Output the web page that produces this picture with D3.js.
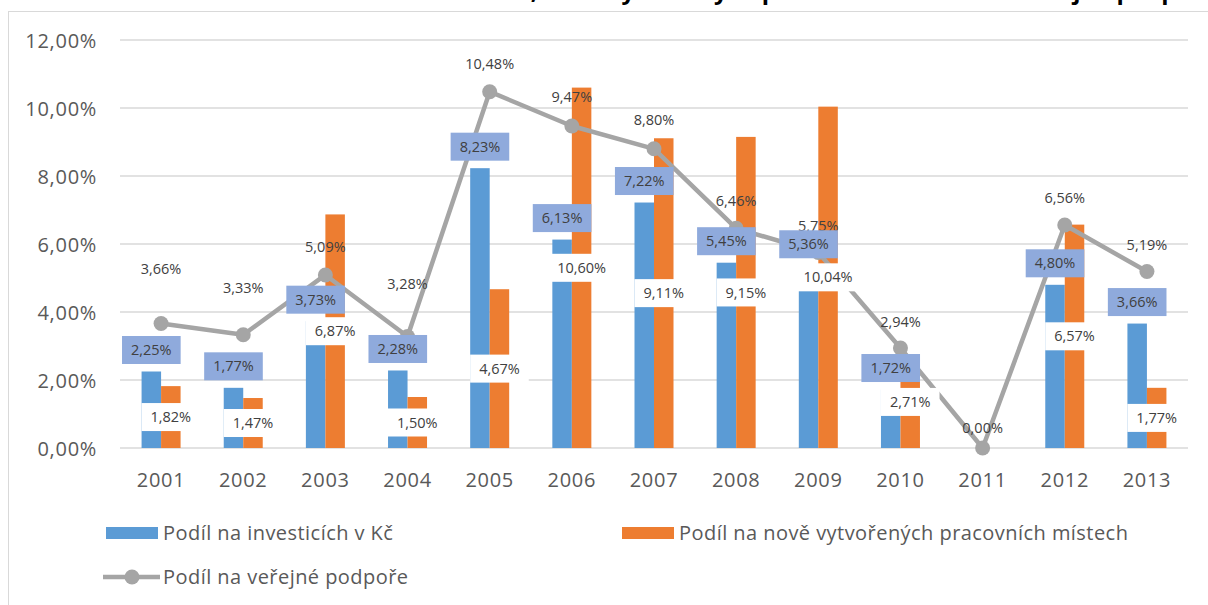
<!DOCTYPE html>
<html>
<head>
<meta charset="utf-8">
<script src="https://cdn.jsdelivr.net/npm/d3@7"></script>
<style>
  html, body { margin: 0; padding: 0; background: #fff; }
  svg { display: block; font-family: "Open Sans", sans-serif; }
</style>
</head>
<body>
<div id="chart"></div>
<script>
// data
var years = ["2001","2002","2003","2004","2005","2006","2007","2008","2009","2010","2011","2012","2013"];
var investice = [2.25, 1.77, 3.73, 2.28, 8.23, 6.13, 7.22, 5.45, 5.36, 1.72, null, 4.80, 3.66];
var mista     = [1.82, 1.47, 6.87, 1.50, 4.67, 10.60, 9.11, 9.15, 10.04, 2.71, null, 6.57, 1.77];
var podpora   = [3.66, 3.33, 5.09, 3.28, 10.48, 9.47, 8.80, 6.46, 5.75, 2.94, 0.00, 6.56, 5.19];
var yTicks = [0, 2, 4, 6, 8, 10, 12];

var seriesNames = ["Podíl na investicích v Kč", "Podíl na nově vytvořených pracovních místech", "Podíl na veřejné podpoře"];
var title = "Podíl na investicích, nově vytvořených pracovních místech a veřejné podpoře";

// how far above the point each line label sits (some were moved by hand)
var lineLabelLift = [55, 47, 28, 53, 28, 29, 29, 27, 27, 26, 20, 27, 27];

var blue = "#5B9BD5", orange = "#ED7D31", grey = "#A5A5A5", boxBlue = "#8FAADC";
var textCol = "#595959", labelCol = "#404040";

var W = 1208, H = 605;
var svg = d3.select("#chart").append("svg").attr("width", W).attr("height", H);

// chart frame (cut at the page edge)
svg.append("rect")
  .attr("x", 8.5).attr("y", 11.5).attr("width", W).attr("height", H)
  .attr("fill", "none").attr("stroke", "#D9D9D9").attr("stroke-width", 1);

// title, mostly above the visible area (only descenders show)
svg.append("text")
  .attr("x", 1216).attr("y", -1)
  .attr("text-anchor", "end")
  .style("font-weight", "bold").style("font-size", "23.8px")
  .attr("fill", "#000")
  .text(title);

var x = d3.scaleBand().domain(years).range([120, 1188]);
var y = d3.scaleLinear().domain([0, 12]).range([448, 40]);
var barW = 19.5;
var fmt = function(v) { return d3.format(".2f")(v).replace(".", ",") + "%"; };

// grid
svg.append("g").selectAll("line")
  .data(yTicks).enter().append("line")
  .attr("x1", 120).attr("x2", 1188)
  .attr("y1", function(d) { return y(d); })
  .attr("y2", function(d) { return y(d); })
  .attr("stroke", "#D9D9D9").attr("stroke-width", 1.3);

// axes
var yAxis = d3.axisLeft(y).tickValues(yTicks).tickSize(0).tickPadding(0)
  .tickFormat(function(d) { return fmt(d); });
var gy = svg.append("g").attr("transform", "translate(97,0)").call(yAxis);
gy.select(".domain").remove();
gy.selectAll("text").attr("fill", textCol).style("font-size", "20px")
  .style("letter-spacing", "0.7px")
  .style("font-family", "Open Sans").attr("dy", "0.35em");

var xAxis = d3.axisBottom(x).tickSize(0).tickPadding(0);
var gx = svg.append("g").attr("transform", "translate(0,480)").call(xAxis);
gx.select(".domain").remove();
gx.selectAll("text").attr("fill", textCol).style("font-size", "20px")
  .style("letter-spacing", "0.7px")
  .style("font-family", "Open Sans").attr("dy", "0.35em");

// bars
var idx = d3.range(years.length);
var cx = function(i) { return x(years[i]) + x.bandwidth() / 2; };

svg.append("g").selectAll("rect")
  .data(idx.filter(function(i) { return investice[i] != null; }))
  .enter().append("rect")
  .attr("x", function(i) { return cx(i) - barW; })
  .attr("y", function(i) { return y(investice[i]); })
  .attr("width", barW)
  .attr("height", function(i) { return y(0) - y(investice[i]); })
  .attr("fill", blue);

svg.append("g").selectAll("rect")
  .data(idx.filter(function(i) { return mista[i] != null; }))
  .enter().append("rect")
  .attr("x", function(i) { return cx(i); })
  .attr("y", function(i) { return y(mista[i]); })
  .attr("width", barW)
  .attr("height", function(i) { return y(0) - y(mista[i]); })
  .attr("fill", orange);

// line
var line = d3.line()
  .x(function(i) { return cx(i); })
  .y(function(i) { return y(podpora[i]); });

svg.append("path")
  .datum(idx)
  .attr("d", line)
  .attr("fill", "none").attr("stroke", grey).attr("stroke-width", 4.5)
  .attr("stroke-linejoin", "round");

svg.append("g").selectAll("circle")
  .data(idx).enter().append("circle")
  .attr("cx", function(i) { return cx(i); })
  .attr("cy", function(i) { return y(podpora[i]); })
  .attr("r", 7.5)
  .attr("fill", grey);

// line labels
svg.append("g").selectAll("text")
  .data(idx).enter().append("text")
  .attr("x", function(i) { return cx(i); })
  .attr("y", function(i) { return y(podpora[i]) - lineLabelLift[i]; })
  .attr("dy", "0.35em")
  .attr("text-anchor", "middle")
  .attr("fill", labelCol).style("font-size", "14.5px")
  .text(function(i) { return fmt(podpora[i]); });

// label with a box behind it
function boxLabel(g, px, py, txt, fill) {
  var t = g.append("text")
    .attr("x", px).attr("y", py).attr("dy", "0.35em")
    .attr("text-anchor", "middle")
    .attr("fill", labelCol).style("font-size", "14.5px")
    .text(txt);
  var tw = t.node().getComputedTextLength();
  g.insert("rect", "text:last-child")
    .attr("x", px - tw / 2 - 9).attr("y", py - 14)
    .attr("width", tw + 18).attr("height", 28)
    .attr("fill", fill);
}

var gBlue = svg.append("g");
idx.forEach(function(i) {
  if (investice[i] == null) return;
  var g = gBlue.append("g");
  boxLabel(g, cx(i) - barW / 2, y(investice[i]) - 21.5, fmt(investice[i]), boxBlue);
});

var gOrange = svg.append("g");
idx.forEach(function(i) {
  if (mista[i] == null) return;
  var g = gOrange.append("g");
  boxLabel(g, cx(i) + barW / 2, (y(mista[i]) + y(0)) / 2, fmt(mista[i]), "#fff");
});

// legend
var lg = svg.append("g").style("font-size", "20px").style("letter-spacing", "0.45px");
lg.append("rect").attr("x", 106).attr("y", 527).attr("width", 52).attr("height", 12).attr("fill", blue);
lg.append("text").attr("x", 163).attr("y", 533).attr("dy", "0.35em").attr("fill", textCol).text(seriesNames[0]);
lg.append("rect").attr("x", 622).attr("y", 527).attr("width", 52).attr("height", 12).attr("fill", orange);
lg.append("text").attr("x", 679).attr("y", 533).attr("dy", "0.35em").attr("fill", textCol).text(seriesNames[1]);
lg.append("line").attr("x1", 103).attr("x2", 160).attr("y1", 577).attr("y2", 577)
  .attr("stroke", grey).attr("stroke-width", 4.5);
lg.append("circle").attr("cx", 132).attr("cy", 577).attr("r", 7.5).attr("fill", grey);
lg.append("text").attr("x", 163).attr("y", 577).attr("dy", "0.35em").attr("fill", textCol).text(seriesNames[2]);
</script>
</body>
</html>
